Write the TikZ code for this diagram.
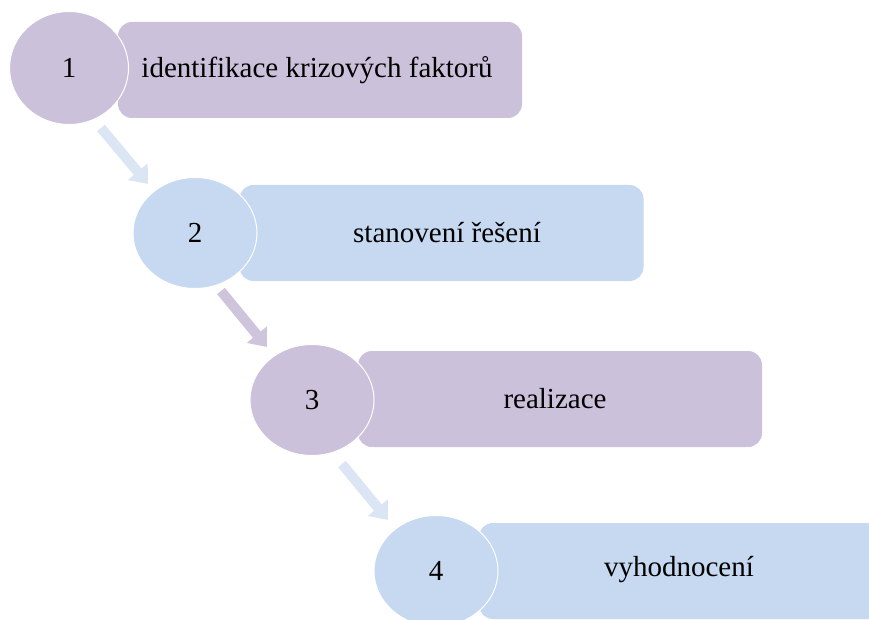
\documentclass[tikz,border=0pt]{standalone}
\usepackage{fontspec}
\setmainfont{Liberation Serif}
\usetikzlibrary{shapes.geometric,arrows.meta}

\definecolor{lav}{HTML}{CCC1DA}
\definecolor{sky}{HTML}{C6D9F1}
\definecolor{lavarrow}{HTML}{CEC5DC}
\definecolor{skyarrow}{HTML}{DBE5F3}

\tikzset{
  stagebox/.style={rectangle, rounded corners=14pt, minimum width=404pt,
    minimum height=96pt, inner sep=0pt, draw=none},
  stagedisc/.style={ellipse, minimum width=124pt, minimum height=111pt,
    inner sep=0pt, draw=white, line width=1pt,
    font=\fontsize{29}{34}\selectfont},
  stagetext/.style={inner sep=0pt, font=\fontsize{29}{34}\selectfont},
  flow/.style={line width=10pt, -{Triangle[width=25pt,length=16pt]}},
}

\begin{document}
\begin{tikzpicture}[x=1pt, y=-1pt]
  \useasboundingbox (0,0) rectangle (869,620);
  \clip (0,0) rectangle (869,620);

  % rounded bars
  \node[stagebox, fill=lav] (b1) at (320,70) {};
  \node[stagebox, fill=sky] (b2) at (441.5,233) {};
  \node[stagebox, fill=lav] (b3) at (560,399) {};
  \node[stagebox, fill=sky] (b4) at (681,571) {};

  % captions
  \node[stagetext] (t1) at (317,70) {identifikace krizových faktorů};
  \node[stagetext] (t2) at (447,233) {stanovení řešení};
  \node[stagetext] (t3) at (555,399) {realizace};
  \node[stagetext] (t4) at (679,570) {vyhodnocení};

  % numbered discs
  \node[stagedisc, fill=lav, minimum width=119pt, minimum height=113pt] (c1) at (69,68) {1};
  \node[stagedisc, fill=sky] (c2) at (195,233) {2};
  \node[stagedisc, fill=lav] (c3) at (312,400) {3};
  \node[stagedisc, fill=sky] (c4) at (436,571) {4};

  % arrows between the steps
  \coordinate (a1s) at (101,128);
  \coordinate (a1t) at (148,184);
  \coordinate (a2s) at (221,291);
  \coordinate (a2t) at (267,347);
  \coordinate (a3s) at (342,464);
  \coordinate (a3t) at (388,520);
  \draw[flow, draw=skyarrow] (a1s) -- (a1t);
  \draw[flow, draw=lavarrow] (a2s) -- (a2t);
  \draw[flow, draw=skyarrow] (a3s) -- (a3t);
\end{tikzpicture}
\end{document}
